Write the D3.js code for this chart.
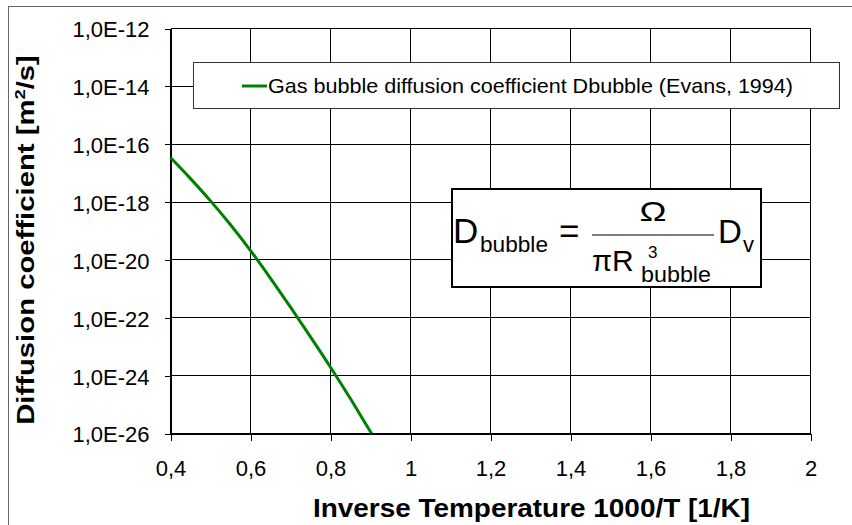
<!DOCTYPE html>
<html>
<head>
<meta charset="utf-8">
<script src="https://cdn.jsdelivr.net/npm/d3@7"></script>
<style>
  html, body { margin: 0; padding: 0; background: #fff; }
  svg { display: block; }
  text { font-family: "Liberation Sans", Arial, sans-serif; fill: #000; }
</style>
</head>
<body>
<svg id="chart" width="852" height="525"></svg>
<script>
// ---- data ----
const invT = [0.40, 0.45, 0.50, 0.55, 0.60, 0.65, 0.70, 0.75, 0.80, 0.85, 0.90, 0.9028];
const dBubble = [3.47e-17, 6.46e-18, 1.10e-18, 1.64e-19, 2.11e-20, 2.32e-21, 2.32e-22, 2.19e-23, 1.95e-24, 1.58e-25, 1.15e-26, 1.0e-26];
const xTicks = [0.4, 0.6, 0.8, 1.0, 1.2, 1.4, 1.6, 1.8, 2.0];
const xTickLabels = ["0,4", "0,6", "0,8", "1", "1,2", "1,4", "1,6", "1,8", "2"];
const yTicks = [1e-12, 1e-14, 1e-16, 1e-18, 1e-20, 1e-22, 1e-24, 1e-26];
const yTickLabels = ["1,0E-12", "1,0E-14", "1,0E-16", "1,0E-18", "1,0E-20", "1,0E-22", "1,0E-24", "1,0E-26"];
const seriesName = "Gas bubble diffusion coefficient Dbubble (Evans, 1994)";
const xTitle = "Inverse Temperature 1000/T [1/K]";

const svg = d3.select("#chart");

// outer chart border (clipped at right/bottom like the reference)
svg.append("rect").attr("x", 8.5).attr("y", 6.5).attr("width", 900).attr("height", 600)
  .attr("fill", "none").attr("stroke", "#666").attr("stroke-width", 1);

const x = d3.scaleLinear().domain([0.4, 2.0]).range([170.5, 810.5]);
const y = d3.scaleLog().domain([1e-26, 1e-12]).range([433.5, 28.5]);

// grid
const grid = svg.append("g").attr("shape-rendering", "crispEdges");
grid.selectAll("line.h").data(yTicks).join("line")
  .attr("x1", x(0.4)).attr("x2", x(2.0))
  .attr("y1", d => y(d)).attr("y2", d => y(d))
  .attr("stroke", "#000").attr("stroke-width", 1);
grid.selectAll("line.v").data(xTicks).join("line")
  .attr("x1", d => x(d)).attr("x2", d => x(d))
  .attr("y1", y(1e-12)).attr("y2", y(1e-26))
  .attr("stroke", "#000").attr("stroke-width", 1);

// axes
const fmtX = d => xTickLabels[xTicks.indexOf(d)];
const fmtY = d => yTickLabels[yTicks.indexOf(d)];

const gx = svg.append("g").attr("transform", `translate(0,${y(1e-26)})`)
  .call(d3.axisBottom(x).tickValues(xTicks).tickFormat(fmtX).tickSize(7).tickPadding(20).tickSizeOuter(0));
const gy = svg.append("g").attr("transform", `translate(${x(0.4)},0)`)
  .call(d3.axisLeft(y).tickValues(yTicks).tickFormat(fmtY).tickSize(6).tickPadding(15).tickSizeOuter(0));
[gx, gy].forEach(g => {
  g.select(".domain").attr("stroke", "#000").attr("shape-rendering", "crispEdges");
  g.selectAll(".tick line").attr("stroke", "#000").attr("shape-rendering", "crispEdges");
  g.selectAll(".tick text").attr("font-family", "'Liberation Sans', Arial, sans-serif")
    .attr("font-size", 22).attr("fill", "#000");
});
gy.selectAll(".tick text").attr("dy", "0.38em");

// series line
const line = d3.line().x((d, i) => x(invT[i])).y(d => y(d)).curve(d3.curveMonotoneX);
svg.append("path").datum(dBubble).attr("d", line)
  .attr("fill", "none").attr("stroke", "#008000").attr("stroke-width", 3)
  .attr("stroke-linejoin", "round");

// legend
svg.append("rect").attr("x", 193.5).attr("y", 62.5).attr("width", 646).attr("height", 46)
  .attr("fill", "#fff").attr("stroke", "#333").attr("stroke-width", 1);
svg.append("line").attr("x1", 242).attr("x2", 267).attr("y1", 86).attr("y2", 86)
  .attr("stroke", "#008000").attr("stroke-width", 3);
svg.append("text").attr("x", 268).attr("y", 93.3).attr("font-size", 21)
  .attr("textLength", 525).attr("lengthAdjust", "spacingAndGlyphs").text(seriesName);

// formula box
svg.append("rect").attr("x", 452).attr("y", 189).attr("width", 309).attr("height", 98)
  .attr("fill", "#fff").attr("stroke", "#000").attr("stroke-width", 2);
const f = svg.append("g");
f.append("text").attr("x", 453).attr("y", 243.3).attr("font-size", 35).text("D");
f.append("text").attr("x", 480).attr("y", 251.7).attr("font-size", 22)
  .attr("textLength", 68).attr("lengthAdjust", "spacingAndGlyphs").text("bubble");
f.append("text").attr("x", 559).attr("y", 243.3).attr("font-size", 35).text("=");
f.append("line").attr("x1", 592).attr("x2", 714).attr("y1", 235).attr("y2", 235)
  .attr("stroke", "#555").attr("stroke-width", 1.5);
f.append("text").attr("x", 653).attr("y", 220.7).attr("text-anchor", "middle")
  .attr("font-family", "'Liberation Serif', 'Times New Roman', serif").attr("font-size", 28)
  .attr("textLength", 27).attr("lengthAdjust", "spacingAndGlyphs").text("Ω");
f.append("text").attr("x", 592).attr("y", 270.7)
  .attr("font-family", "'Liberation Serif', 'Times New Roman', serif").attr("font-size", 29).text("π");
f.append("text").attr("x", 612).attr("y", 270.7).attr("font-size", 30).text("R");
f.append("text").attr("x", 648).attr("y", 257.5).attr("font-size", 17).text("3");
f.append("text").attr("x", 641).attr("y", 281.7).attr("font-size", 22)
  .attr("textLength", 70).attr("lengthAdjust", "spacingAndGlyphs").text("bubble");
f.append("text").attr("x", 718).attr("y", 243.3).attr("font-size", 33).text("D");
f.append("text").attr("x", 743).attr("y", 251.7).attr("font-size", 22).text("v");

// axis titles
svg.append("text").attr("x", 313).attr("y", 517).attr("font-size", 25).attr("font-weight", "bold")
  .attr("textLength", 437).attr("lengthAdjust", "spacingAndGlyphs").text(xTitle);
const yt = svg.append("text").attr("transform", "translate(33.5,240) rotate(-90) scale(1.22,1)")
  .attr("text-anchor", "middle").attr("font-size", 24).attr("font-weight", "bold");
yt.append("tspan").text("Diffusion coefficient [m");
yt.append("tspan").attr("font-size", 15).attr("dy", -9).text("2");
yt.append("tspan").attr("dy", 9).text("/s]");
</script>
</body>
</html>
